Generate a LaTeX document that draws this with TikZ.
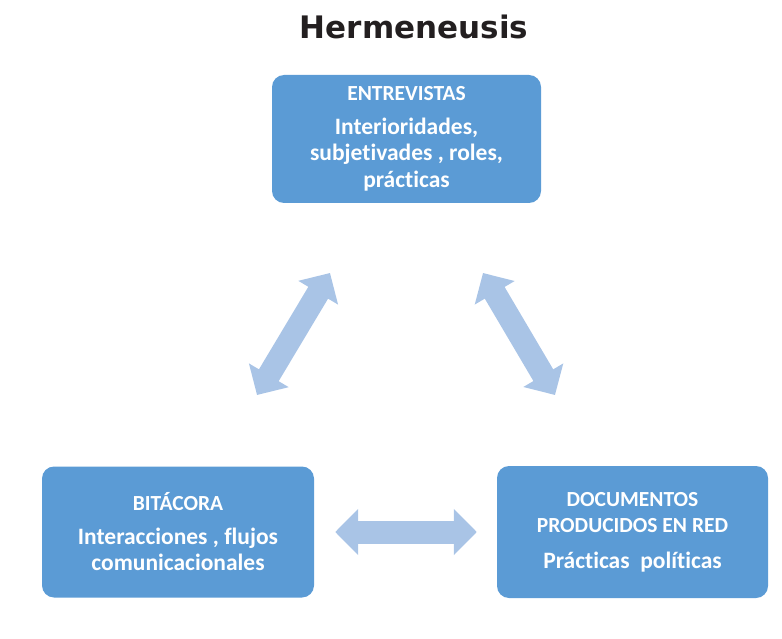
\documentclass[tikz,border=0pt]{standalone}
\usepackage{fontspec}
\setmainfont{Carlito}[Ligatures=NoCommon]
\newfontfamily\headfont{DejaVu Sans}
\usetikzlibrary{arrows.meta}

\definecolor{boxblue}{HTML}{5B9BD5}
\definecolor{arrowblue}{HTML}{A9C4E6}
\definecolor{titleblack}{HTML}{231F20}

\tikzset{
  topic box/.style={
    fill=boxblue, rounded corners=12pt, text=white, align=center,
    font=\bfseries\fontsize{23.5}{26.5}\selectfont, inner sep=0pt,
  },
  link arrow/.style={
    draw=arrowblue, line width=23pt,
    {Triangle[width=45pt,length=23pt]}-{Triangle[width=45pt,length=23pt]},
  },
}
\newcommand\boxhead[1]{{\fontsize{21.5}{26.5}\selectfont #1}}

\begin{document}
\begin{tikzpicture}[x=1pt,y=-1pt] % hermeneusis triangle
    \useasboundingbox (0,0) rectangle (782,639);

    % title
    \node (title) at (414,27) [text=titleblack,
        font=\headfont\bfseries\fontsize{31}{36}\selectfont] {Hermeneusis};

    % the three sources
    \node (ent) at (406.5,139) [topic box, minimum width=269pt, minimum height=128pt]
        {\boxhead{ENTREVISTAS}\\[7pt] Interioridades,\\ subjetivades , roles,\\ prácticas};
    \node (bit) at (178,532) [topic box, minimum width=272pt, minimum height=131pt]
        {\boxhead{BITÁCORA}\\[7pt] Interacciones , flujos\\ comunicacionales};
    \node (doc) at (632.5,532) [topic box, minimum width=271pt, minimum height=132pt]
        {\boxhead{DOCUMENTOS}\\ \boxhead{PRODUCIDOS EN RED}\\[9pt] Prácticas\ \ políticas};

    % arrow ends (begin, end)
    \coordinate (bit up)    at (257,395);
    \coordinate (ent left)  at (330,273);
    \coordinate (ent right) at (483,273);
    \coordinate (doc up)    at (555,395);

    % draw links
    \draw [link arrow] (bit up) -- (ent left);
    \draw [link arrow] (ent right) -- (doc up);
    \draw [link arrow, shorten <=21pt, shorten >=20pt] (bit.east) -- (doc.west);
\end{tikzpicture}
\end{document}
